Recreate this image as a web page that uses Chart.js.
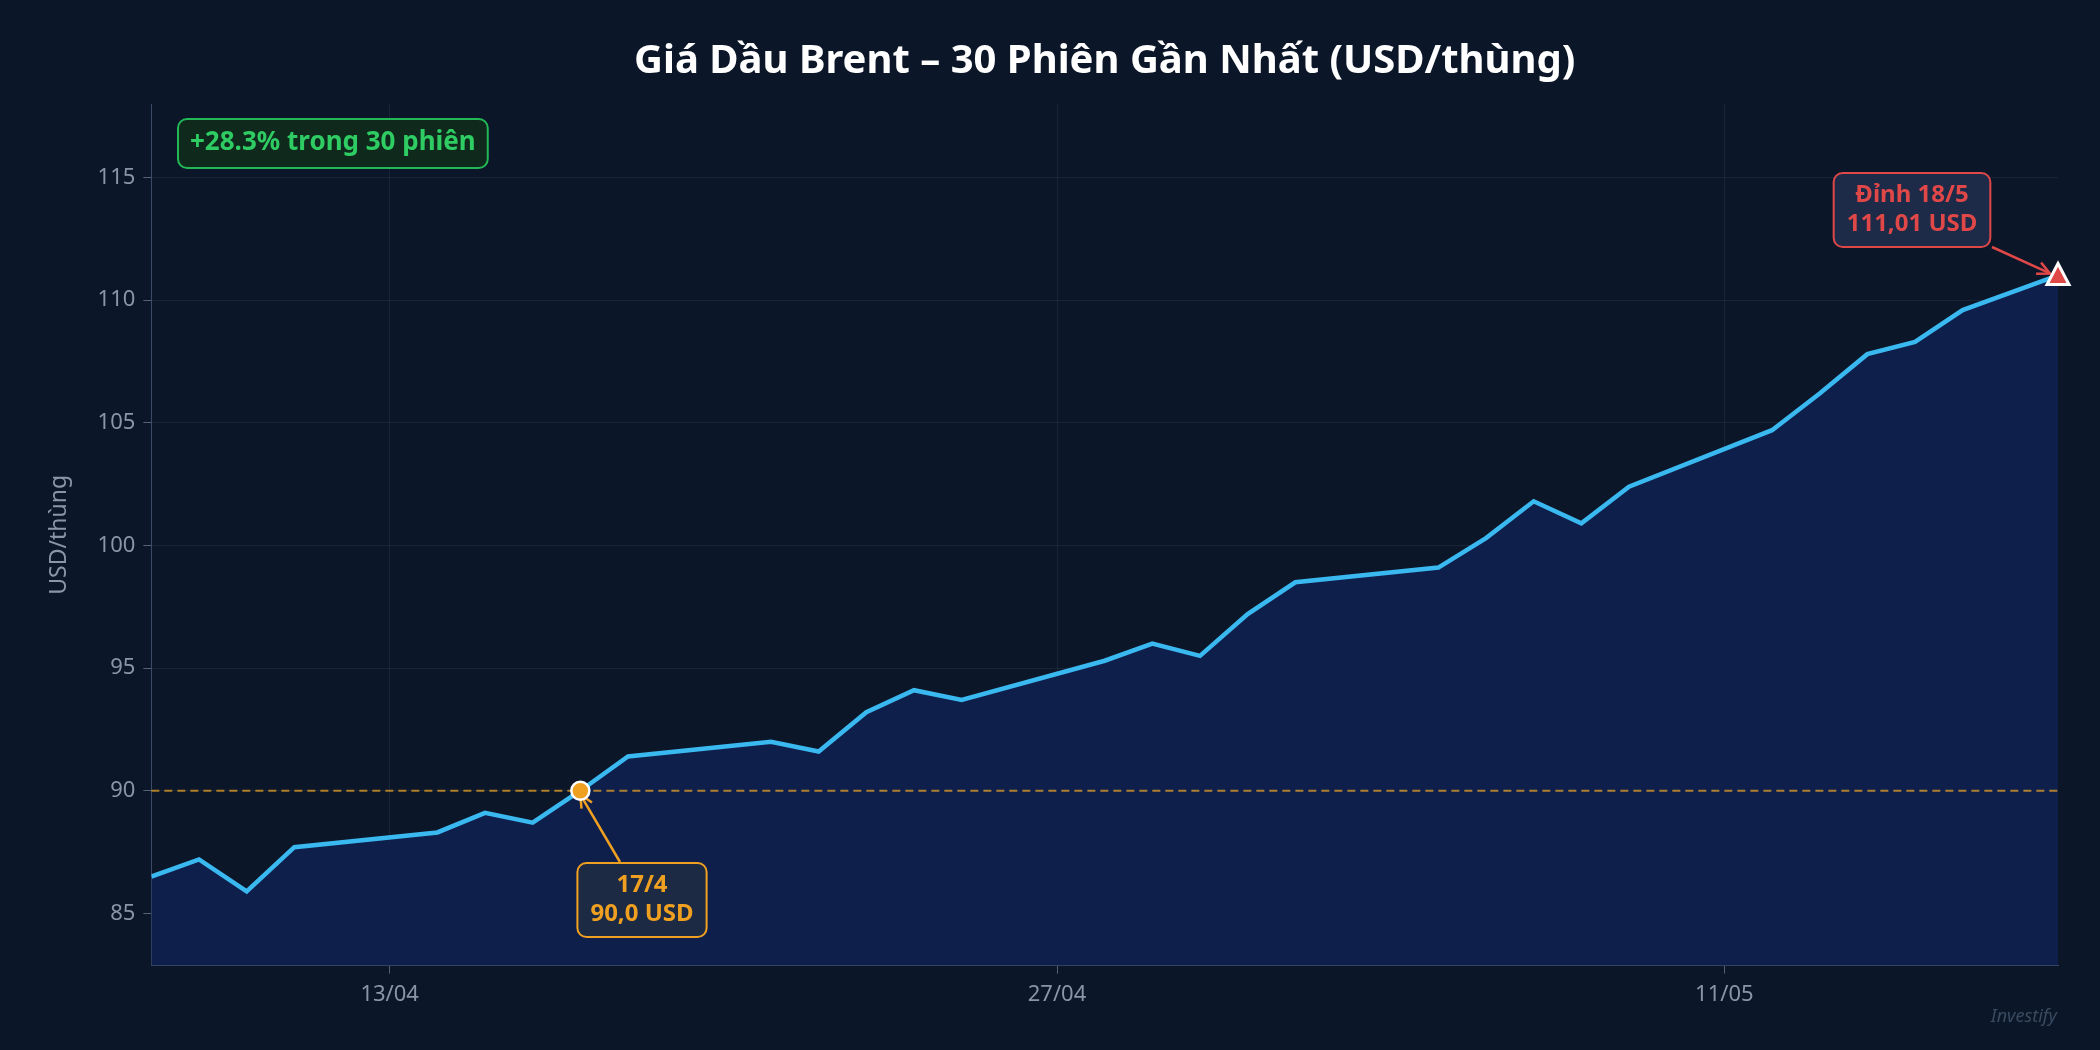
<!DOCTYPE html>
<html><head><meta charset="utf-8">
<script src="https://cdn.jsdelivr.net/npm/chart.js@4.4.1/dist/chart.umd.min.js"></script>
<style>html,body{margin:0;background:#0b1628;}#w{width:2100px;height:1050px;}</style>
</head><body><div id="w"><canvas id="c"></canvas></div>
<script>
// day offset from 08/04
const dayOffsets = [0,1,2,3,6,7,8,9,10,13,14,15,16,17,20,21,22,23,24,27,28,29,30,31,34,35,36,37,38,40];
const prices = [86.5,87.2,85.9,87.7,88.3,89.1,88.7,90.0,91.4,92.0,91.6,93.2,94.1,93.7,95.3,96.0,95.5,97.2,98.5,99.1,100.3,101.8,100.9,102.4,104.7,106.2,107.8,108.3,109.6,111.01];
const xTickPos = [5,19,33];
const xTickLabels = ['13/04','27/04','11/05'];
const yTicks = [85,90,95,100,105,110,115];
const titleText = 'Giá Dầu Brent – 30 Phiên Gần Nhất (USD/thùng)';

const F = '"Noto Sans", "DejaVu Sans", sans-serif';
function rr(ctx,x,y,w,h,r){ctx.beginPath();ctx.moveTo(x+r,y);ctx.arcTo(x+w,y,x+w,y+h,r);ctx.arcTo(x+w,y+h,x,y+h,r);ctx.arcTo(x,y+h,x,y,r);ctx.arcTo(x,y,x+w,y,r);ctx.closePath();}
function box(ctx,cx,cy,lines,col,bg){
  ctx.font='bold 24px '+F;
  let w=Math.max(...lines.map(l=>ctx.measureText(l).width))+26;
  let h=lines.length*29+16;
  rr(ctx,cx-w/2,cy-h/2,w,h,9);ctx.fillStyle=bg;ctx.fill();ctx.lineWidth=2;ctx.strokeStyle=col;ctx.stroke();
  ctx.fillStyle=col;ctx.textAlign='center';ctx.textBaseline='middle';
  lines.forEach((l,i)=>ctx.fillText(l,cx,cy-(lines.length-1)*14.5+i*29));
}
function arrow(ctx,x1,y1,x2,y2,col){
  ctx.strokeStyle=col;ctx.lineWidth=2.5;ctx.beginPath();ctx.moveTo(x1,y1);ctx.lineTo(x2,y2);ctx.stroke();
  const a=Math.atan2(y2-y1,x2-x1),L=14;
  ctx.beginPath();ctx.moveTo(x2-L*Math.cos(a-0.45),y2-L*Math.sin(a-0.45));ctx.lineTo(x2,y2);ctx.lineTo(x2-L*Math.cos(a+0.45),y2-L*Math.sin(a+0.45));ctx.stroke();
}
const deco={id:'deco',
 beforeDraw(c){const ctx=c.ctx;ctx.save();ctx.fillStyle='#0b1628';ctx.fillRect(0,0,c.width,c.height);
  const a=c.chartArea;ctx.font='bold 40px '+F;ctx.fillStyle='#fff';ctx.textAlign='center';ctx.textBaseline='middle';
  ctx.fillText(titleText,(a.left+a.right)/2,62);ctx.restore();},
 afterDatasetsDraw(c){
  const ctx=c.ctx,x=c.scales.x,y=c.scales.y,a=c.chartArea;
  ctx.save();
  ctx.setLineDash([8,5]);ctx.strokeStyle='rgba(230,160,40,0.75)';ctx.lineWidth=2;
  ctx.beginPath();ctx.moveTo(a.left,y.getPixelForValue(90));ctx.lineTo(a.right,y.getPixelForValue(90));ctx.stroke();
  ctx.setLineDash([]);
  const px=x.getPixelForValue(dayOffsets[7]),py=y.getPixelForValue(prices[7]);
  arrow(ctx,620,862,px,py+4,'#f0a020');
  ctx.beginPath();ctx.arc(px,py,9,0,7);ctx.fillStyle='#f0a020';ctx.fill();ctx.lineWidth=2.5;ctx.strokeStyle='#fff';ctx.stroke();
  box(ctx,642,900,['17/4','90,0 USD'],'#f0a020','#1d2a44');
  const qx=x.getPixelForValue(dayOffsets[29]),qy=y.getPixelForValue(prices[29]);
  arrow(ctx,1992,247,qx-8,qy-2,'#e04848');
  ctx.beginPath();ctx.moveTo(qx,qy-12);ctx.lineTo(qx+11,qy+9);ctx.lineTo(qx-11,qy+9);ctx.closePath();
  ctx.fillStyle='#e04848';ctx.fill();ctx.lineWidth=3;ctx.strokeStyle='#fff';ctx.stroke();
  box(ctx,1912,210,['Đỉnh 18/5','111,01 USD'],'#e04848','#1d2a48');
  ctx.font='bold 26px '+F;
  const t='+28.3% trong 30 phiên',tw=ctx.measureText(t).width+24;
  rr(ctx,178,119,tw,49,9);ctx.fillStyle='#0f2a1c';ctx.fill();ctx.strokeStyle='#22b855';ctx.lineWidth=2;ctx.stroke();
  ctx.fillStyle='#2ecc63';ctx.textAlign='left';ctx.textBaseline='middle';ctx.fillText(t,190,143);
  ctx.font='italic 18px '+F;ctx.fillStyle='#3a4a60';ctx.textAlign='right';ctx.fillText('Investify',2057,1017);
  ctx.restore();
 }};
new Chart(document.getElementById('c'),{
 type:'line',
 data:{datasets:[{data:dayOffsets.map((d,i)=>({x:d,y:prices[i]})),borderColor:'#3ab8f0',borderWidth:4.5,pointRadius:0,fill:'start',backgroundColor:'#0e1f4c',tension:0}]},
 options:{responsive:true,maintainAspectRatio:false,animation:false,
  layout:{padding:{left:42,right:42,top:104,bottom:34}},
  plugins:{legend:{display:false},tooltip:{enabled:false},title:{display:false}},
  scales:{
   x:{type:'linear',min:0,max:40,
    afterBuildTicks:s=>{s.ticks=xTickPos.map(v=>({value:v}));},
    ticks:{color:'#8a96a8',font:{family:F,size:22},padding:8,callback:v=>xTickLabels[xTickPos.indexOf(v)]},
    grid:{color:'rgba(120,140,170,0.12)',tickLength:8,tickColor:'rgba(140,150,170,0.6)'},border:{color:'#3a4a68'}},
   y:{min:82.87,max:118,
    afterBuildTicks:s=>{s.ticks=yTicks.map(v=>({value:v}));},
    ticks:{color:'#8a96a8',font:{family:F,size:22},padding:8},
    title:{display:true,text:'USD/thùng',color:'#8a96a8',font:{family:F,size:23},padding:{top:4,bottom:16}},
    grid:{color:'rgba(120,140,170,0.12)',tickLength:8,tickColor:'rgba(140,150,170,0.6)'},border:{color:'#3a4a68'}}
  }},
 plugins:[deco]});
</script></body></html>
